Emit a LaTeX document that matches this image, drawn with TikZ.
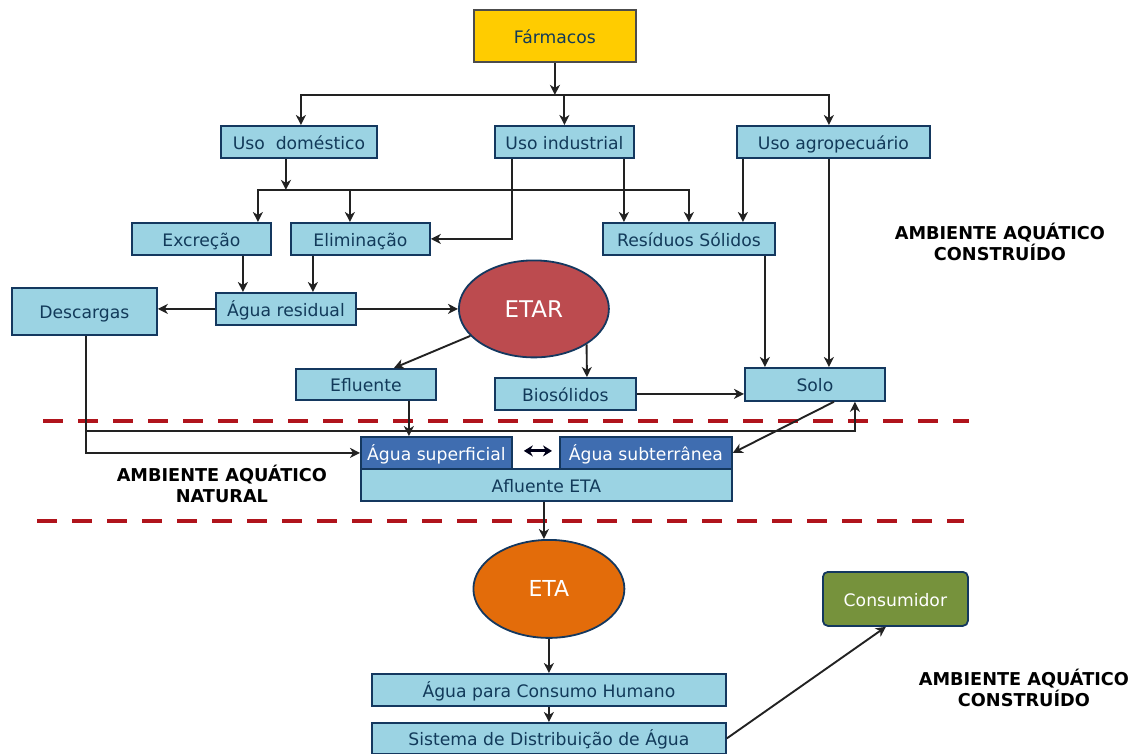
\documentclass[tikz,border=0pt]{standalone}
\usepackage{fontspec}
\setmainfont{DejaVu Sans}
\usetikzlibrary{arrows.meta,shapes.geometric}
\definecolor{boxc}{HTML}{9BD3E3}
\definecolor{boxt}{HTML}{123A5A}
\definecolor{edgec}{HTML}{14385F}
\definecolor{dkc}{HTML}{3F6DB0}
\definecolor{sepc}{HTML}{B0141C}
\definecolor{etarc}{HTML}{BC4B4F}
\definecolor{etac}{HTML}{E36C0A}
\definecolor{consc}{HTML}{76923C}
\definecolor{farmc}{HTML}{FFCC00}
\definecolor{linec}{HTML}{222222}
\tikzset{
 x=1pt,y=-1pt,
 bx/.style={draw=edgec,line width=1.8pt,fill=boxc,text=boxt,font=\fontsize{17.2}{18}\selectfont,inner sep=0pt,anchor=north west,text height=16pt,text depth=1.5pt},
 dk/.style={bx,fill=dkc,text=white},
 oval/.style={ellipse,draw=edgec,line width=1.8pt,text=white,inner sep=0pt},
 ln/.style={draw=linec,line width=1.9pt,-{Stealth[length=10pt,width=10pt,inset=3pt]}},
 sep/.style={draw=sepc,line width=4.5pt,dash pattern=on 20pt off 15pt},
 lab/.style={font=\fontsize{17.7}{20.5}\selectfont\bfseries,align=center,text=black}
}
\newcommand{\bxn}[6]{\node[#1,minimum width=#4pt,minimum height=#5pt] (#2) at #3 {#6};}
\begin{document}
\begin{tikzpicture}
\useasboundingbox (1,1) rectangle (1136,755);
\bxn{bx,fill=farmc,draw=black!70,text=boxt}{farm}{(474,10)}{162}{52}{Fármacos}
\bxn{bx}{dom}{(221,126)}{156}{32}{Uso\ \ doméstico}
\bxn{bx}{ind}{(495,126)}{139}{32}{Uso industrial}
\bxn{bx}{agr}{(737,126)}{193}{32}{Uso agropecuário}
\bxn{bx}{exc}{(132,223)}{139}{32}{Excreção}
\bxn{bx}{eli}{(291,223)}{139}{32}{Eliminação}
\bxn{bx}{res}{(603,223)}{172}{32}{Resíduos Sólidos}
\bxn{bx}{des}{(12,288)}{145}{47}{Descargas}
\bxn{bx}{agu}{(216,293)}{140}{32}{Água residual}
\node[oval,fill=etarc,minimum width=150pt,minimum height=97pt,font=\fontsize{23}{25}\selectfont] (etar) at (534.9,309.9) {ETAR};
\bxn{bx}{efl}{(296,369)}{140}{31}{Efluente}
\bxn{bx}{bio}{(495,378)}{141}{32}{Biosólidos}
\bxn{bx}{solo}{(745,368)}{140}{33}{Solo}
\bxn{dk}{sup}{(361,437)}{151}{32}{Água superficial}
\bxn{dk}{sub}{(560,437)}{172}{32}{Água subterrânea}
\bxn{bx}{afl}{(361,469)}{371}{32}{Afluente ETA}
\node[oval,fill=etac,minimum width=151pt,minimum height=98pt,font=\fontsize{22}{24}\selectfont] (eta) at (549.9,589.9) {ETA};
\bxn{bx,fill=consc,text=white,rounded corners=5pt}{cons}{(823,572)}{145}{54}{Consumidor}
\bxn{bx}{hum}{(372,674)}{354}{32}{Água para Consumo Humano}
\bxn{bx}{sis}{(372,723)}{354}{31}{Sistema de Distribuição de Água}
\coordinate (s1a) at (44,421.9); \coordinate (s1b) at (970,421.9);
\coordinate (s2a) at (38,521.9); \coordinate (s2b) at (965,521.9);
\draw[sep] (s1a) -- (s1b);
\draw[sep] (s2a) -- (s2b);
\node[lab] (l1) at (1000.9,242.9) {AMBIENTE AQUÁTICO\\CONSTRUÍDO};
\node[lab] (l2) at (222.9,484.9) {AMBIENTE AQUÁTICO\\NATURAL};
\node[lab] (l3) at (1024.9,688.9) {AMBIENTE AQUÁTICO\\CONSTRUÍDO};
% top distribution
\coordinate (a1) at (555.9,95.9);
\draw[ln] (farm.south) -- (a1);
\draw[ln] (a1) -| ([xshift=2pt]dom.north);
\draw[ln] (a1 -| ind.north) -- (ind.north);
\draw[ln] (a1) -| ([xshift=-4.5pt]agr.north);
% domestic bus
\coordinate (b1) at (286.9,190.9);
\draw[ln] ([xshift=-13pt]dom.south) -- (b1);
\draw[ln] (b1) -| ([xshift=56.5pt]exc.north);
\draw[ln] (b1) -| ([xshift=-10.5pt]eli.north);
\draw[ln] (b1) -| (res.north);
\draw[ln] ([xshift=-52.5pt]ind.south) |- (eli.east);
\draw[ln] ([xshift=59.5pt]ind.south) -- ([xshift=-65pt]res.north);
\draw[ln] ([xshift=-90.5pt]agr.south) -- ([xshift=54pt]res.north);
\draw[ln] ([xshift=-4.5pt]agr.south) -- ([xshift=14pt]solo.north);
\draw[ln] ([xshift=76pt]res.south) -- ([xshift=-50pt]solo.north);
\draw[ln] ([xshift=41.5pt]exc.south) -- ([xshift=-43pt]agu.north);
\draw[ln] ([xshift=-47.5pt]eli.south) -- ([xshift=27pt]agu.north);
\draw[ln] (agu.west) -- (agu.west -| des.east);
\draw[ln] (agu.east) -- (etar.west);
\draw[ln] (etar.203) -- ([xshift=28pt]efl.north);
\draw[ln] (etar.-34) -- ([xshift=21.5pt]bio.north);
\draw[ln] (bio.east) -- (bio.east -| solo.west);
\draw[ln] ([xshift=43pt]efl.south) -- ([xshift=-27.5pt]sup.north);
\draw[ln] ([xshift=1.5pt]des.south) |- (sup.west);
\coordinate (c1) at (86,431.9);
\draw[ln] (c1) -| ([xshift=40pt]solo.south);
\draw[ln] ([xshift=19pt]solo.south) -- (sub.east);
\draw[{Stealth[length=9pt,width=11pt]}-{Stealth[length=9pt,width=11pt]},line width=3pt,draw=black!90!blue] ([xshift=11pt,yshift=2pt]sup.east) -- ([xshift=-7pt,yshift=2pt]sub.west);
\draw[ln] ([xshift=-2.5pt]afl.south) -- ([xshift=-5pt]eta.north);
\draw[ln] (eta.south) -- (hum.north);
\draw[ln] (hum.south) -- (sis.north);
\draw[ln] (sis.east) -- ([xshift=-9.5pt]cons.south);
\end{tikzpicture}
\end{document}
